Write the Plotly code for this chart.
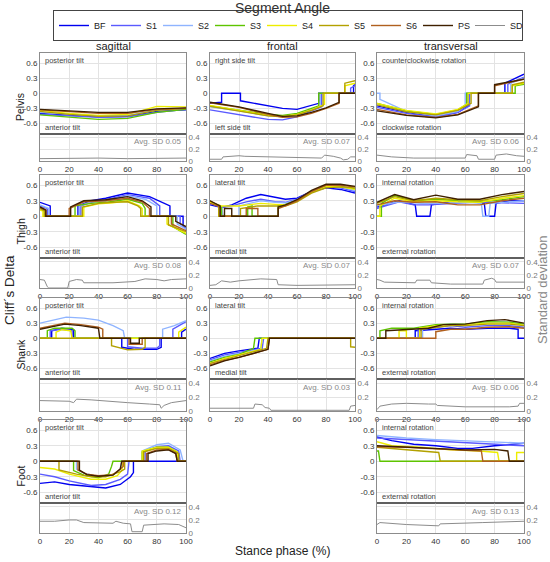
import plotly.graph_objects as go

# series names and colours (legend order)
series_names = ["BF", "S1", "S2", "S3", "S4", "S5", "S6", "PS"]
series_colors = ["#0000f0", "#5a5aff", "#8fb4ff", "#5ec400", "#eded00",
                 "#b3a100", "#b0601e", "#3f2000"]
sd_color = "#8c8c8c"

# Cliff's delta curves as (stance %, delta) knots; 0 = not significant
pelvis_sag = {
    "BF": [(0, -0.40), (20, -0.44), (40, -0.47), (60, -0.46), (80, -0.36), (100, -0.33)],
    "S1": [(0, -0.42), (20, -0.45), (40, -0.48), (60, -0.47), (80, -0.38), (100, -0.32)],
    "S2": [(0, -0.38), (20, -0.42), (40, -0.45), (60, -0.44), (80, -0.33), (100, -0.30)],
    "S3": [(0, -0.43), (20, -0.48), (40, -0.52), (60, -0.50), (80, -0.38), (100, -0.32)],
    "S4": [(0, -0.34), (20, -0.40), (40, -0.44), (60, -0.42), (80, -0.26), (100, -0.27)],
    "S5": [(0, -0.36), (20, -0.42), (40, -0.46), (60, -0.45), (80, -0.34), (100, -0.30)],
    "S6": [(0, -0.33), (20, -0.37), (40, -0.40), (60, -0.40), (80, -0.32), (100, -0.30)],
    "PS": [(0, -0.32), (20, -0.35), (40, -0.38), (60, -0.38), (80, -0.31), (100, -0.29)],
}
pelvis_sag_sd = [(0, 0.04), (20, 0.05), (40, 0.05), (60, 0.04), (80, 0.04), (100, 0.05)]

pelvis_fro = {
    "BF": [(0, -0.20), (8, -0.18), (8, 0), (21, 0), (21, -0.15), (35, -0.22), (50, -0.30), (60, -0.32),
           (70, -0.25), (75, -0.20), (75, 0), (99, 0), (99, 0.15), (100, 0.17)],
    "S1": [(0, -0.33), (20, -0.42), (40, -0.52), (50, -0.53), (60, -0.47), (70, -0.35), (77, -0.27),
           (77, 0), (97, 0), (97, 0.10), (100, 0.15)],
    "S2": [(0, -0.27), (20, -0.35), (40, -0.45), (50, -0.46), (60, -0.42), (70, -0.32), (76, -0.25),
           (76, 0), (100, 0)],
    "S3": [(0, -0.25), (20, -0.33), (40, -0.42), (50, -0.44), (60, -0.40), (70, -0.30), (75, -0.25),
           (75, 0), (100, 0)],
    "S4": [(0, -0.24), (20, -0.34), (40, -0.44), (50, -0.46), (60, -0.42), (70, -0.33), (79, -0.22),
           (79, 0), (93, 0), (93, 0.15), (100, 0.20)],
    "S5": [(0, -0.26), (20, -0.36), (40, -0.45), (50, -0.47), (60, -0.43), (70, -0.34), (78, -0.25),
           (78, 0), (93, 0), (93, 0.20), (100, 0.25)],
    "S6": [(0, -0.19), (20, -0.28), (40, -0.42), (50, -0.48), (60, -0.47), (70, -0.40), (80, -0.30),
           (89, -0.20), (89, 0), (100, 0)],
    "PS": [(0, -0.18), (20, -0.27), (40, -0.40), (50, -0.46), (60, -0.45), (70, -0.38), (80, -0.29),
           (89, -0.18), (89, 0), (100, 0)],
}
pelvis_fro_sd = [(0, 0.03), (8, 0.03), (9, 0.07), (20, 0.09), (24, 0.08), (40, 0.07), (70, 0.05),
                 (77, 0.05), (79, 0.10), (85, 0.08), (90, 0.05), (92, 0.02), (95, 0.03), (97, 0.07),
                 (100, 0.07)]

pelvis_tra = {
    "BF": [(0, -0.25), (20, -0.38), (40, -0.47), (55, -0.38), (62, -0.25), (62, 0), (87, 0),
           (87, 0.20), (100, 0.38)],
    "S1": [(0, -0.28), (20, -0.40), (40, -0.47), (55, -0.38), (63, -0.25), (63, 0), (89, 0),
           (89, 0.18), (100, 0.32)],
    "S2": [(0, 0), (2, 0), (2, -0.12), (20, -0.36), (40, -0.45), (55, -0.36), (60, -0.25), (60, 0),
           (91, 0), (91, 0.20), (100, 0.30)],
    "S3": [(0, -0.20), (20, -0.35), (40, -0.42), (55, -0.33), (61, -0.22), (61, 0), (94, 0),
           (94, 0.15), (100, 0.18)],
    "S4": [(0, -0.20), (20, -0.34), (40, -0.41), (55, -0.32), (62, -0.20), (62, 0), (92, 0),
           (92, 0.15), (100, 0.20)],
    "S5": [(0, -0.23), (20, -0.37), (40, -0.43), (55, -0.34), (64, -0.20), (64, 0), (92, 0),
           (92, 0.17), (100, 0.22)],
    "S6": [(0, -0.32), (20, -0.43), (40, -0.48), (55, -0.42), (69, -0.25), (69, 0), (80, 0),
           (80, 0.15), (100, 0.28)],
    "PS": [(0, -0.35), (20, -0.44), (40, -0.49), (55, -0.43), (69, -0.27), (69, 0), (80, 0),
           (80, 0.17), (100, 0.28)],
}
pelvis_tra_sd = [(0, 0.10), (3, 0.09), (10, 0.07), (25, 0.05), (60, 0.05), (61, 0.11), (64, 0.10),
                 (68, 0.09), (69, 0.03), (80, 0.03), (81, 0.10), (88, 0.12), (95, 0.09), (100, 0.08)]

thigh_sag = {
    "BF": [(0, 0.27), (7, 0.20), (7, 0), (26, 0), (26, 0.20), (35, 0.30), (45, 0.35), (60, 0.45),
           (75, 0.38), (89, 0.20), (89, 0), (98, 0), (98, -0.20), (100, -0.25)],
    "S1": [(0, 0.20), (5, 0.15), (5, 0), (28, 0), (28, 0.20), (35, 0.27), (45, 0.32), (60, 0.42),
           (75, 0.35), (82, 0.20), (82, 0), (96, 0), (96, -0.15), (100, -0.22)],
    "S2": [(0, 0.22), (6, 0.15), (6, 0), (27, 0), (27, 0.20), (35, 0.28), (45, 0.30), (60, 0.40),
           (72, 0.33), (80, 0.20), (80, 0), (94, 0), (94, -0.15), (100, -0.25)],
    "S3": [(0, 0.15), (3, 0.12), (3, 0), (24, 0), (24, 0.20), (35, 0.25), (45, 0.27), (60, 0.33),
           (70, 0.25), (72, 0.15), (72, 0), (91, 0), (91, -0.20), (100, -0.35)],
    "S4": [(0, 0.12), (2, 0.10), (2, 0), (30, 0), (30, 0.18), (40, 0.24), (50, 0.26), (60, 0.30),
           (68, 0.20), (70, 0.15), (70, 0), (87, 0), (87, -0.15), (100, -0.33)],
    "S5": [(0, 0.15), (3, 0.10), (3, 0), (29, 0), (29, 0.18), (40, 0.25), (50, 0.27), (60, 0.28),
           (67, 0.20), (69, 0.15), (69, 0), (88, 0), (88, -0.17), (100, -0.30)],
    "S6": [(0, 0.17), (4, 0.12), (4, 0), (20, 0), (20, 0.15), (30, 0.28), (45, 0.30), (60, 0.35),
           (70, 0.28), (75, 0.15), (75, 0), (90, 0), (90, -0.15), (100, -0.28)],
    "PS": [(0, 0.18), (4, 0.12), (4, 0), (21, 0), (21, 0.18), (30, 0.30), (45, 0.32), (60, 0.38),
           (70, 0.30), (76, 0.18), (76, 0), (93, 0), (93, -0.10), (100, -0.20)],
}
thigh_sag_sd = [(0, 0.13), (3, 0.12), (5, 0.02), (6, 0), (19, 0), (20, 0.10), (25, 0.13), (29, 0.12),
                (30, 0.08), (50, 0.08), (65, 0.10), (72, 0.14), (80, 0.13), (85, 0.11), (90, 0.13),
                (100, 0.14)]

thigh_fro = {
    "BF": [(0, 0.22), (8, 0.17), (15, 0.22), (25, 0.35), (35, 0.42), (45, 0.36), (52, 0.33), (60, 0.35),
           (70, 0.48), (80, 0.55), (90, 0.52), (100, 0.45)],
    "S1": [(0, 0.25), (8, 0.17), (15, 0.20), (25, 0.28), (35, 0.33), (45, 0.28), (52, 0.27), (60, 0.33),
           (70, 0.48), (80, 0.57), (90, 0.55), (100, 0.48)],
    "S2": [(0, 0.26), (8, 0.18), (9, 0), (20, 0), (20, 0.20), (35, 0.30), (45, 0.27), (52, 0.26),
           (60, 0.32), (70, 0.48), (80, 0.58), (90, 0.57), (100, 0.50)],
    "S3": [(0, 0.28), (8, 0.18), (8, 0), (26, 0), (26, 0.18), (29, 0.20), (29, 0), (47, 0), (47, 0.20),
           (52, 0.23), (60, 0.30), (70, 0.47), (80, 0.58), (90, 0.58), (100, 0.53)],
    "S4": [(0, 0.27), (8, 0.20), (20, 0.20), (35, 0.25), (45, 0.23), (52, 0.22), (60, 0.30), (70, 0.47),
           (80, 0.58), (90, 0.57), (100, 0.52)],
    "S5": [(0, 0.30), (6, 0.20), (6, 0), (21, 0), (21, 0.15), (33, 0.20), (45, 0.20), (52, 0.20),
           (60, 0.28), (70, 0.45), (80, 0.55), (90, 0.57), (100, 0.55)],
    "S6": [(0, 0.25), (7, 0.18), (7, 0), (25, 0), (25, 0.15), (33, 0.15), (33, 0), (47, 0), (47, 0.15),
           (52, 0.20), (60, 0.30), (70, 0.48), (80, 0.60), (90, 0.60), (100, 0.57)],
    "PS": [(0, 0.30), (7, 0.20), (7, 0), (10, 0), (10, 0.15), (15, 0.15), (15, 0), (47, 0), (47, 0.18),
           (52, 0.22), (60, 0.32), (70, 0.50), (80, 0.62), (90, 0.62), (100, 0.58)],
}
thigh_fro_sd = [(0, 0.04), (4, 0.05), (8, 0.11), (14, 0.09), (20, 0.11), (27, 0.12), (35, 0.14),
                (46, 0.13), (47, 0.05), (60, 0.04), (80, 0.04), (100, 0.05)]

thigh_tra = {
    "BF": [(0, 0.18), (3, 0.20), (15, 0.30), (26, 0.22), (27, 0), (36, 0), (37, 0.22), (50, 0.28),
           (65, 0.28), (73, 0.25), (74, 0), (80, 0), (81, 0.25), (90, 0.30), (100, 0.30)],
    "S1": [(0, 0.15), (3, 0.18), (15, 0.28), (25, 0.22), (35, 0.22), (50, 0.25), (65, 0.27),
           (75, 0.27), (90, 0.25), (100, 0.25)],
    "S2": [(0, 0.20), (15, 0.28), (30, 0.25), (45, 0.25), (60, 0.27), (71, 0.25), (72, 0), (76, 0),
           (77, 0.25), (90, 0.28), (100, 0.30)],
    "S3": [(0, 0), (3, 0), (3, 0.25), (12, 0.40), (25, 0.30), (40, 0.33), (55, 0.30), (70, 0.28),
           (85, 0.32), (100, 0.38)],
    "S4": [(0, 0), (2, 0), (2, 0.20), (12, 0.35), (25, 0.28), (40, 0.30), (55, 0.28), (70, 0.27),
           (85, 0.35), (100, 0.40)],
    "S5": [(0, 0.25), (12, 0.38), (25, 0.30), (40, 0.35), (55, 0.32), (70, 0.30), (85, 0.38), (100, 0.44)],
    "S6": [(0, 0.22), (12, 0.30), (25, 0.27), (40, 0.28), (55, 0.22), (70, 0.22), (85, 0.30), (100, 0.35)],
    "PS": [(0, 0.27), (12, 0.42), (25, 0.32), (40, 0.41), (55, 0.33), (70, 0.33), (85, 0.42), (100, 0.48)],
}
thigh_tra_sd = [(0, 0.13), (2, 0.12), (5, 0.09), (26, 0.08), (27, 0.12), (36, 0.12), (37, 0.08),
                (50, 0.06), (72, 0.06), (73, 0.12), (78, 0.15), (80, 0.13), (81, 0.09), (100, 0.09)]

shank_sag = {
    "BF": [(0, 0), (8, 0), (8, 0.15), (15, 0.20), (23, 0.17), (23, 0), (56, 0), (56, -0.18), (65, -0.22),
           (80, -0.22), (83, -0.18), (83, 0), (97, 0), (97, 0.12), (100, 0.18)],
    "S1": [(0, 0), (7, 0), (7, 0.15), (15, 0.18), (22, 0.15), (22, 0), (60, 0), (60, -0.17), (70, -0.20),
           (80, -0.20), (82, -0.15), (82, 0), (91, 0), (91, 0.18), (100, 0.33)],
    "S2": [(0, 0.30), (10, 0.36), (18, 0.42), (30, 0.40), (40, 0.36), (50, 0.25), (57, 0.15), (58, 0),
           (84, 0), (84, 0.18), (92, 0.25), (100, 0.35)],
    "S3": [(0, 0), (5, 0), (5, 0.15), (10, 0.20), (22, 0.20), (24, 0.15), (24, 0), (100, 0)],
    "S4": [(0, 0), (11, 0), (11, 0.12), (15, 0.17), (21, 0.15), (22, 0), (95, 0), (95, 0.12), (100, 0.22)],
    "S5": [(0, 0), (49, 0), (49, -0.15), (55, -0.20), (60, -0.23), (70, -0.22), (72, -0.18), (72, 0),
           (100, 0)],
    "S6": [(0, 0.20), (10, 0.26), (17, 0.30), (28, 0.27), (40, 0.22), (43, 0.18), (43, 0), (61, 0),
           (61, -0.12), (70, -0.12), (70, 0), (100, 0)],
    "PS": [(0, 0.18), (10, 0.24), (17, 0.28), (28, 0.25), (40, 0.20), (41, 0), (62, 0), (62, -0.10),
           (68, -0.10), (68, 0), (100, 0)],
}
shank_sag_sd = [(0, 0.15), (10, 0.15), (20, 0.14), (23, 0.12), (25, 0.17), (35, 0.16), (50, 0.13),
                (60, 0.12), (75, 0.10), (82, 0.09), (83, 0.04), (85, 0.08), (90, 0.12), (100, 0.15)]

shank_fro = {
    "BF": [(0, -0.40), (10, -0.30), (20, -0.25), (33, -0.20), (34, 0), (100, 0)],
    "S1": [(0, -0.43), (10, -0.33), (20, -0.28), (36, -0.20), (37, 0), (100, 0)],
    "S2": [(0, -0.45), (10, -0.36), (20, -0.30), (35, -0.22), (36, 0), (100, 0)],
    "S3": [(0, -0.47), (10, -0.38), (20, -0.32), (30, -0.20), (31, 0), (100, 0)],
    "S4": [(0, -0.50), (10, -0.40), (20, -0.33), (35, -0.22), (36, 0), (100, 0)],
    "S5": [(0, -0.50), (10, -0.42), (20, -0.35), (39, -0.20), (40, 0), (97, 0), (97, -0.17), (100, -0.18)],
    "S6": [(0, -0.53), (10, -0.44), (20, -0.38), (40, -0.22), (41, 0), (100, 0)],
    "PS": [(0, -0.55), (10, -0.45), (20, -0.38), (40, -0.22), (41, 0), (100, 0)],
}
shank_fro_sd = [(0, 0.04), (30, 0.04), (31, 0.10), (36, 0.09), (38, 0.05), (41, 0.04), (42, 0.01),
                (96, 0.01), (97, 0.07), (100, 0.08)]

shank_tra = {
    "BF": [(0, 0), (26, 0), (26, 0.15), (40, 0.18), (50, 0.20), (60, 0.18), (75, 0.20), (90, 0.20),
           (96, 0.18), (96, 0), (100, 0)],
    "S1": [(0, 0), (28, 0), (28, 0.17), (40, 0.22), (50, 0.25), (60, 0.22), (75, 0.25), (90, 0.25),
           (100, 0.22)],
    "S2": [(0, 0), (31, 0), (31, 0.20), (40, 0.25), (50, 0.28), (60, 0.27), (75, 0.32), (90, 0.32),
           (100, 0.28)],
    "S3": [(0, 0), (2, 0), (2, 0.15), (10, 0.20), (25, 0.20), (40, 0.27), (50, 0.28), (60, 0.28),
           (75, 0.33), (90, 0.32), (100, 0.28)],
    "S4": [(0, 0), (15, 0), (15, 0.15), (20, 0.15), (20, 0), (29, 0), (29, 0.20), (40, 0.25),
           (50, 0.27), (60, 0.27), (75, 0.30), (90, 0.30), (100, 0.26)],
    "S5": [(0, 0), (30, 0), (30, 0.18), (40, 0.22), (50, 0.25), (60, 0.25), (75, 0.28), (90, 0.28),
           (100, 0.25)],
    "S6": [(0, 0), (40, 0), (40, 0.13), (50, 0.18), (60, 0.18), (75, 0.22), (90, 0.23), (100, 0.20)],
    "PS": [(0, 0), (6, 0), (6, 0.15), (20, 0.18), (35, 0.20), (45, 0.27), (60, 0.28), (75, 0.35),
           (87, 0.37), (100, 0.30)],
}
shank_tra_sd = [(0, 0.02), (2, 0.07), (10, 0.10), (20, 0.11), (35, 0.10), (40, 0.10), (41, 0.08),
                (60, 0.06), (90, 0.06), (96, 0.07), (97, 0.11), (100, 0.11)]

foot_sag = {
    "BF": [(0, -0.43), (10, -0.40), (20, -0.45), (35, -0.50), (45, -0.52), (55, -0.45), (62, -0.30),
           (64, -0.22), (64, 0), (100, 0)],
    "S1": [(0, -0.25), (10, -0.30), (20, -0.38), (35, -0.47), (45, -0.45), (55, -0.35), (60, -0.25),
           (61, 0), (72, 0), (72, 0.20), (80, 0.28), (88, 0.30), (95, 0.20), (96, 0), (100, 0)],
    "S2": [(0, 0), (25, 0), (25, -0.15), (30, -0.23), (40, -0.30), (50, -0.27), (55, -0.15), (56, 0),
           (70, 0), (70, 0.20), (80, 0.32), (88, 0.35), (96, 0.22), (98, 0), (100, 0)],
    "S3": [(0, 0), (23, 0), (23, -0.18), (30, -0.27), (40, -0.32), (47, -0.25), (49, -0.10), (50, 0),
           (70, 0), (70, 0.18), (80, 0.27), (88, 0.27), (94, 0.18), (95, 0), (100, 0)],
    "S4": [(0, -0.12), (10, -0.15), (20, -0.25), (35, -0.35), (45, -0.35), (53, -0.28), (56, -0.18),
           (57, 0), (70, 0), (70, 0.20), (80, 0.27), (88, 0.27), (94, 0.18), (95, 0), (100, 0)],
    "S5": [(0, 0), (13, 0), (13, -0.17), (25, -0.25), (35, -0.30), (45, -0.30), (55, -0.20), (58, -0.15),
           (58, 0), (71, 0), (71, 0.18), (80, 0.25), (88, 0.25), (95, 0.15), (95, 0), (100, 0)],
    "S6": [(0, 0), (26, 0), (26, -0.17), (32, -0.25), (40, -0.28), (50, -0.26), (55, -0.15), (57, -0.10),
           (57, 0), (73, 0), (73, 0.15), (80, 0.22), (88, 0.23), (93, 0.15), (94, 0), (100, 0)],
    "PS": [(0, 0), (27, 0), (27, -0.17), (32, -0.26), (40, -0.29), (50, -0.27), (55, -0.15), (56, 0),
           (74, 0), (74, 0.15), (80, 0.20), (88, 0.22), (93, 0.15), (94, 0), (100, 0)],
}
foot_sag_sd = [(0, 0.18), (10, 0.18), (20, 0.20), (25, 0.20), (30, 0.16), (50, 0.15), (52, 0.18),
               (57, 0.15), (62, 0.14), (63, 0.02), (70, 0.02), (71, 0.12), (85, 0.14), (95, 0.13),
               (100, 0.08)]

foot_tra = {
    "BF": [(0, 0.47), (10, 0.40), (25, 0.33), (40, 0.30), (55, 0.25), (65, 0.25), (80, 0.30), (100, 0.35)],
    "S1": [(0, 0.45), (20, 0.42), (40, 0.38), (60, 0.35), (80, 0.33), (100, 0.30)],
    "S2": [(0, 0.50), (20, 0.45), (40, 0.42), (60, 0.40), (80, 0.37), (100, 0.35)],
    "S3": [(0, 0.20), (1, 0.20), (2, 0), (100, 0)],
    "S4": [(0, 0.38), (10, 0.30), (30, 0.27), (50, 0.22), (70, 0.20), (82, 0.17), (83, 0), (95, 0),
           (95, 0.17), (100, 0.17)],
    "S5": [(0, 0.27), (20, 0.22), (42, 0.17), (43, 0), (100, 0)],
    "S6": [(0, 0.28), (20, 0.27), (40, 0.24), (60, 0.22), (71, 0.20), (72, 0), (100, 0)],
    "PS": [(0, 0.30), (20, 0.27), (40, 0.25), (60, 0.22), (80, 0.23), (89, 0.20), (90, 0), (100, 0)],
}
foot_tra_sd = [(0, 0.13), (2, 0.16), (20, 0.13), (42, 0.11), (43, 0.14), (70, 0.15), (72, 0.16),
               (100, 0.18)]

row_names = ["Pelvis", "Thigh", "Shank", "Foot"]
col_names = ["sagittal", "frontal", "transversal"]

# (row, col, curves, sd, avg sd text, upper label, lower label)
panels = [
    (0, 0, pelvis_sag, pelvis_sag_sd, "0.05", "posterior tilt", "anterior tilt"),
    (0, 1, pelvis_fro, pelvis_fro_sd, "0.07", "right side tilt", "left side tilt"),
    (0, 2, pelvis_tra, pelvis_tra_sd, "0.06", "counterclockwise rotation", "clockwise rotation"),
    (1, 0, thigh_sag, thigh_sag_sd, "0.08", "posterior tilt", "anterior tilt"),
    (1, 1, thigh_fro, thigh_fro_sd, "0.07", "lateral tilt", "medial tilt"),
    (1, 2, thigh_tra, thigh_tra_sd, "0.07", "internal rotation", "external rotation"),
    (2, 0, shank_sag, shank_sag_sd, "0.11", "posterior tilt", "anterior tilt"),
    (2, 1, shank_fro, shank_fro_sd, "0.03", "lateral tilt", "medial tilt"),
    (2, 2, shank_tra, shank_tra_sd, "0.06", "internal rotation", "external rotation"),
    (3, 0, foot_sag, foot_sag_sd, "0.12", "posterior tilt", "anterior tilt"),
    (3, 2, foot_tra, foot_tra_sd, "0.13", "internal rotation", "external rotation"),
]

# page geometry in pixels
W, H = 550, 562
cols_px = [(40, 186), (210, 355), (377, 524)]
rows_px = [(53, 134, 161), (175, 258, 288), (298, 379, 411), (420, 503, 533)]
FONT = "Liberation Sans, Arial, sans-serif"


def fx(px):
    return px / W


def fy(py):
    return 1 - py / H


def sfx(k):
    return "" if k == 1 else str(k)


def label(text, x, y, size, color="#222", xanchor="center", yanchor="middle", angle=0):
    return dict(text=text, x=fx(x), y=fy(y), xref="paper", yref="paper", xanchor=xanchor,
                yanchor=yanchor, textangle=angle, showarrow=False,
                font=dict(size=size, color=color))


fig = go.Figure()
layout = {}
shapes = []
annotations = []

grid = "#e3e3e3"
frame = "#8c8c8c"

n = 1
for i, (r, c, curves, sd, avg, up_lab, low_lab) in enumerate(panels):
    left, right = cols_px[c]
    top, mid, bot = rows_px[r]
    ma, sa = n, n + 1

    layout["xaxis" + sfx(ma)] = dict(
        domain=[fx(left), fx(right)], anchor="y" + sfx(ma), range=[0, 100],
        tickvals=[0, 20, 40, 60, 80, 100], showticklabels=False, showgrid=True, gridcolor=grid,
        showline=True, mirror=True, linecolor=frame, zeroline=False, ticks="")
    layout["yaxis" + sfx(ma)] = dict(
        domain=[fy(mid), fy(top)], anchor="x" + sfx(ma), range=[-0.81, 0.8],
        tickvals=[-0.6, -0.3, 0, 0.3, 0.6], ticktext=["-0.6", "-0.3", "0", "0.3", "0.6"],
        tickfont=dict(size=8, color="#333"), showgrid=True, gridcolor=grid,
        showline=True, mirror=True, linecolor=frame, zeroline=False, ticks="")
    layout["xaxis" + sfx(sa)] = dict(
        domain=[fx(left), fx(right)], anchor="y" + sfx(sa), range=[0, 100],
        tickvals=[0, 20, 40, 60, 80, 100], tickfont=dict(size=8, color="#333"),
        showgrid=True, gridcolor=grid, showline=True, mirror=True, linecolor=frame,
        zeroline=False, ticks="")
    layout["yaxis" + sfx(sa)] = dict(
        domain=[fy(bot), fy(mid)], anchor="x" + sfx(sa), range=[0, 0.46], side="right",
        tickvals=[0, 0.2, 0.4], ticktext=["0", "0.2", "0.4"],
        tickfont=dict(size=8, color="#777"), showgrid=True, gridcolor=grid,
        showline=True, mirror=True, linecolor=frame, zeroline=False, ticks="")

    for name, color in zip(series_names, series_colors):
        pts = curves[name]
        fig.add_trace(go.Scatter(
            x=[p[0] for p in pts], y=[p[1] for p in pts], mode="lines", name=name,
            line=dict(color=color, width=1.4), showlegend=(i == 0),
            xaxis="x" + sfx(ma), yaxis="y" + sfx(ma), hoverinfo="skip"))
    fig.add_trace(go.Scatter(
        x=[p[0] for p in sd], y=[p[1] for p in sd], mode="lines", name="SD",
        line=dict(color=sd_color, width=1), showlegend=(i == 0),
        xaxis="x" + sfx(sa), yaxis="y" + sfx(sa), hoverinfo="skip"))

    # divider between delta and SD panels
    shapes.append(dict(type="line", xref="paper", yref="paper", x0=fx(left), x1=fx(right),
                       y0=fy(mid), y1=fy(mid), line=dict(color="#333", width=1)))
    annotations.append(label(up_lab, left + 3, top + 1, 7.5, "#444", "left", "top"))
    annotations.append(label(low_lab, left + 3, mid - 0.5, 7.5, "#444", "left", "bottom"))
    annotations.append(label("Avg. SD " + avg, right - 2, mid + 1.5, 8, "#888", "right", "top"))
    n += 2

# row and column titles
for r, name in enumerate(row_names):
    top, mid, bot = rows_px[r]
    annotations.append(label(name, 20, (top + bot) / 2, 10.5, angle=-90))
for c, name in enumerate(col_names):
    left, right = cols_px[c]
    annotations.append(label(name, (left + right) / 2, 45.5, 11))

annotations += [
    label("Segment Angle", 282, 7.5, 14, "#333"),
    label("Cliff´s Delta", 9, 290, 13.5, angle=-90),
    label("Standard deviation", 542, 290, 13, "#888", angle=-90),
    label("Stance phase (%)", 282, 551, 12),
]

fig.update_layout(
    width=W, height=H, margin=dict(l=0, r=0, t=0, b=0, autoexpand=False),
    paper_bgcolor="white", plot_bgcolor="white",
    font=dict(family=FONT, color="#222"),
    shapes=shapes, annotations=annotations,
    legend=dict(orientation="h", x=fx(53), xanchor="left", y=fy(25.5), yanchor="middle",
                bordercolor="#444", borderwidth=1, font=dict(size=9, color="#222"),
                itemwidth=30, entrywidth=7, tracegroupgap=0, bgcolor="white"),
    **layout,
)

# drop the browser's default page margin so the figure sits at the window corner
fig.write_html("out.html", config={"displayModeBar": False},
               post_script="document.body.style.margin='0';")
